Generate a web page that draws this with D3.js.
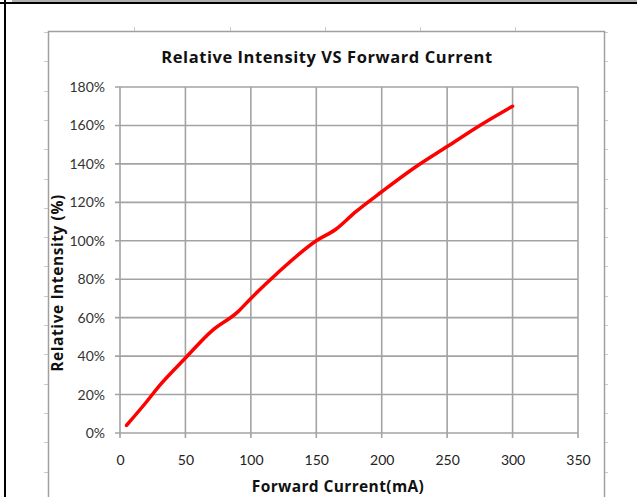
<!DOCTYPE html>
<html><head><meta charset="utf-8">
<script src="https://cdn.jsdelivr.net/npm/d3@7"></script>
<style>body{margin:0;background:#fff;}svg{display:block;}</style>
</head><body>
<script>
const currentMA = [5, 20, 30, 50, 70, 90, 100, 120, 150, 165, 180, 200, 225, 250, 275, 300];
const intensityPct = [4, 16, 24.5, 39, 53, 63, 70, 83, 100, 106, 115, 125.5, 138, 149, 160, 170];
const xTicks = [0, 50, 100, 150, 200, 250, 300, 350];
const yTicks = [0, 20, 40, 60, 80, 100, 120, 140, 160, 180];
const titleText = "Relative Intensity VS Forward Current";
const xTitle = "Forward Current(mA)";
const yTitle = "Relative Intensity (%)";

const W = 637, H = 497;
const svg = d3.select("body").append("svg").attr("width", W).attr("height", H);
const font = "Lato, 'Open Sans', sans-serif";
const tfont = "'Open Sans', Lato, sans-serif";

// page frame
svg.append("rect").attr("x", 12).attr("y", 0).attr("width", W - 12).attr("height", 2).attr("fill", "#b0b0b0");
svg.append("rect").attr("x", 0).attr("y", 2).attr("width", W).attr("height", 2).attr("fill", "#000");
svg.append("rect").attr("x", 4).attr("y", 0).attr("width", 2).attr("height", H).attr("fill", "#000");

// faint sheet ticks
const sheet = svg.append("g").attr("stroke", "#c4cad6").attr("stroke-width", 1);
d3.range(0, 16).forEach(i => {
  const y = Math.round(32 + i * 29.3) + 0.5;
  sheet.append("line").attr("x1", 44).attr("x2", 48).attr("y1", y).attr("y2", y);
  sheet.append("line").attr("x1", 604).attr("x2", 608).attr("y1", y).attr("y2", y);
});
[134, 230, 325, 420, 515].forEach(x => {
  sheet.append("line").attr("x1", x + 0.5).attr("x2", x + 0.5).attr("y1", 27).attr("y2", 31);
});

// chart box
svg.append("rect").attr("x", 48.5).attr("y", 31.5).attr("width", 556).attr("height", 480)
  .attr("fill", "#fff").attr("stroke", "#a0a0a0").attr("stroke-width", 1.5);

const x = d3.scaleLinear().domain([0, 350]).range([120, 578]);
const y = d3.scaleLinear().domain([0, 180]).range([433, 87]);

// grid
const grid = svg.append("g").attr("stroke", "#a3a3a3").attr("stroke-width", 1.6);
yTicks.forEach(v => {
  grid.append("line").attr("x1", x(0) - 5).attr("x2", x(350)).attr("y1", y(v)).attr("y2", y(v));
});
xTicks.forEach(v => {
  grid.append("line").attr("x1", x(v)).attr("x2", x(v)).attr("y1", y(180)).attr("y2", y(0) + 5);
});

// axes labels via d3 axes
const yAxis = svg.append("g").attr("transform", `translate(${x(0)},0)`)
  .call(d3.axisLeft(y).tickValues(yTicks).tickFormat(d => d + "%").tickSize(0).tickPadding(15));
yAxis.select(".domain").remove();
yAxis.selectAll("text").attr("font-family", font).attr("font-size", 14).attr("fill", "#333");

const xAxis = svg.append("g").attr("transform", `translate(0,${y(0)})`)
  .call(d3.axisBottom(x).tickValues(xTicks).tickFormat(d3.format("d")).tickSize(0).tickPadding(22));
xAxis.select(".domain").remove();
xAxis.selectAll("text").attr("font-family", font).attr("font-size", 14).attr("fill", "#222");

// curve
const data = currentMA.map((c, i) => ({c, v: intensityPct[i]}));
svg.append("path").datum(data)
  .attr("fill", "none").attr("stroke", "#ff0000").attr("stroke-width", 3.5)
  .attr("stroke-linecap", "round").attr("stroke-linejoin", "round")
  .attr("d", d3.line().x(d => x(d.c)).y(d => y(d.v)).curve(d3.curveMonotoneX));

// titles, spaced to match the reference's wider rendering
function fit(sel, target) {
  const n = sel.text().length;
  const w = sel.node().getComputedTextLength();
  const ls = Math.max(0, (target - w) / (n - 1));
  sel.attr("letter-spacing", ls.toFixed(2));
}
const t1 = svg.append("text").attr("x", 327).attr("y", 63).attr("text-anchor", "middle")
  .attr("font-family", tfont).attr("font-weight", "bold").attr("font-size", 16.5).attr("fill", "#111").text(titleText);
fit(t1, 331);
const t2 = svg.append("text").attr("x", 338).attr("y", 492).attr("text-anchor", "middle")
  .attr("font-family", tfont).attr("font-weight", "bold").attr("font-size", 15.5).attr("fill", "#111").text(xTitle);
fit(t2, 172);
const t3 = svg.append("text").attr("transform", "translate(63,283) rotate(-90)").attr("text-anchor", "middle")
  .attr("font-family", tfont).attr("font-weight", "bold").attr("font-size", 15.5).attr("fill", "#111").text(yTitle);
fit(t3, 177);
</script>
</body></html>
